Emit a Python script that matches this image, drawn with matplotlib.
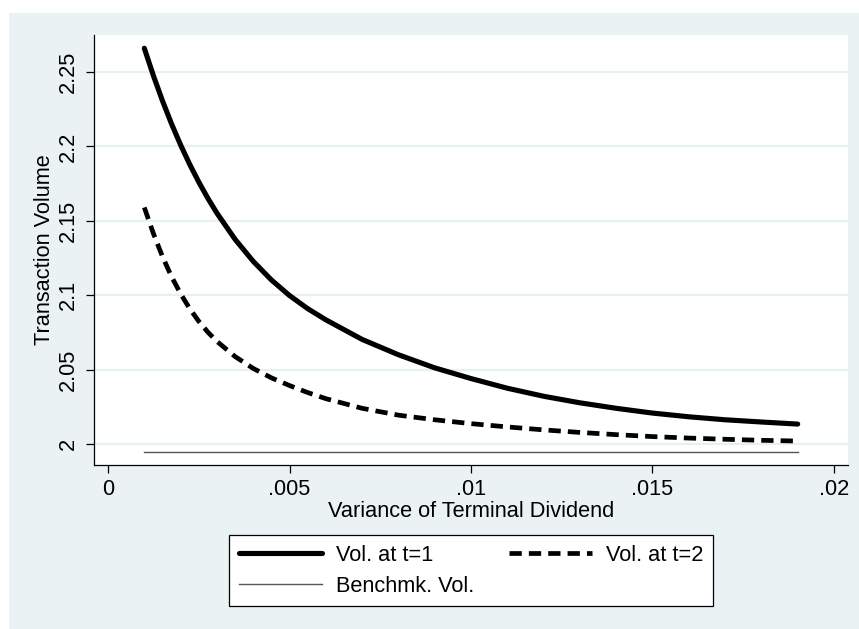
import matplotlib
matplotlib.use('Agg')
from matplotlib import pyplot as plt
from matplotlib.patches import Rectangle

plt.rcParams['font.family'] = ['Liberation Sans', 'DejaVu Sans']

# variance of terminal dividend
variance = [0.001, 0.00125, 0.0015, 0.00175, 0.002, 0.00225, 0.0025, 0.00275, 0.003,
            0.0035, 0.004, 0.0045, 0.005, 0.0055, 0.006, 0.007, 0.008, 0.009, 0.010,
            0.011, 0.012, 0.013, 0.014, 0.015, 0.016, 0.017, 0.018, 0.019]
# transaction volume at t=1
vol_t1 = [2.266, 2.2476, 2.2307, 2.2152, 2.2010, 2.1880, 2.1761, 2.1652, 2.1552,
          2.1376, 2.1228, 2.1103, 2.0998, 2.0910, 2.0835, 2.0703, 2.0600, 2.0512, 2.0440,
          2.0375, 2.0321, 2.0277, 2.0240, 2.0208, 2.0183, 2.0163, 2.0148, 2.0134]
# transaction volume at t=2
vol_t2 = [2.159, 2.1415, 2.1260, 2.1125, 2.1010, 2.0910, 2.0825, 2.0752, 2.0690,
          2.0588, 2.0508, 2.0445, 2.0393, 2.0346, 2.0305, 2.0240, 2.0194, 2.0163, 2.0137,
          2.0115, 2.0095, 2.0078, 2.0063, 2.0050, 2.0040, 2.0032, 2.0025, 2.0020]
# benchmark volume
bench_x = [0.001, 0.019]
bench_vol = [1.9946, 1.9946]

xticks = [0, 0.005, 0.01, 0.015, 0.02]
xticklabels = ['0', '.005', '.01', '.015', '.02']
yticks = [2, 2.05, 2.1, 2.15, 2.2, 2.25]
yticklabels = ['2', '2.05', '2.1', '2.15', '2.2', '2.25']

W, H = 859, 629
fs = 15.7
fig = plt.figure(figsize=(W / 100, H / 100), dpi=100)
fig.patch.set_facecolor('white')
fig.add_artist(Rectangle((9 / W, 0), (W - 9) / W, (H - 13) / H,
                         transform=fig.transFigure, facecolor='#EAF2F3',
                         edgecolor='none', zorder=-10))

ax = fig.add_axes([94 / W, (H - 465) / H, (848 - 94) / W, (465 - 35) / H])
ax.set_facecolor('white')

l1, = ax.plot(variance, vol_t1, color='black', lw=3.7, solid_capstyle='round',
              solid_joinstyle='round', label='Vol. at t=1', zorder=3)
l2, = ax.plot(variance, vol_t2, color='black', lw=3.4, dashes=(2.6, 1.5),
              dash_capstyle='butt', label='Vol. at t=2', zorder=3)
l3, = ax.plot(bench_x, bench_vol, color='#555555', lw=1.0, label='Benchmk. Vol.',
              zorder=3)

ax.set_xlim(-0.000386, 0.020386)
ax.set_ylim(1.9859, 2.2749)
ax.set_xticks(xticks)
ax.set_xticklabels(xticklabels)
ax.set_yticks(yticks)
ax.set_yticklabels(yticklabels, rotation=90, va='center')

ax.grid(axis='y', color='#E6EFF1', lw=1.6, zorder=1)
ax.set_axisbelow(True)
for side in ['top', 'right']:
    ax.spines[side].set_visible(False)
for side in ['left', 'bottom']:
    ax.spines[side].set_linewidth(0.9)
    ax.spines[side].set_color('black')

ax.tick_params(axis='both', direction='out', length=6, width=0.9,
               labelsize=fs, colors='black')
ax.tick_params(axis='x', pad=4)
ax.tick_params(axis='y', pad=5)

ax.set_xlabel('Variance of Terminal Dividend', fontsize=fs, labelpad=1)
ax.set_ylabel('Transaction Volume', fontsize=fs, labelpad=2)

# legend is filled column by column, so order gives two rows
leg = ax.legend([l1, l3, l2], ['Vol. at t=1', 'Benchmk. Vol.', 'Vol. at t=2'],
                ncol=2, loc='upper center', bbox_to_anchor=(471 / W, 1 - 535 / H),
                bbox_transform=fig.transFigure, fontsize=fs, frameon=True,
                fancybox=False, framealpha=1, edgecolor='black',
                handlelength=3.8, handletextpad=0.65, columnspacing=1.6,
                labelspacing=0.45, borderpad=0.45, borderaxespad=0)
leg.get_frame().set_linewidth(0.9)

fig.savefig('out.png', dpi=100)
